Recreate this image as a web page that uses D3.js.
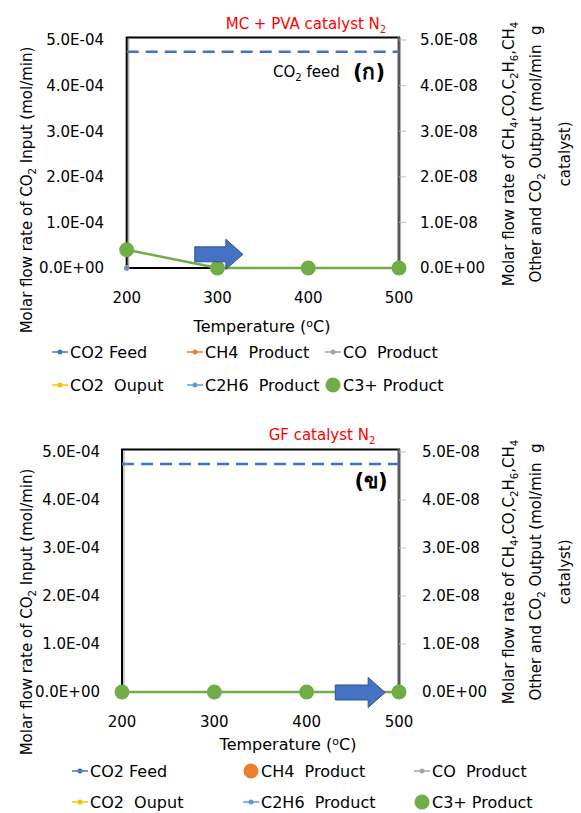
<!DOCTYPE html>
<html>
<head>
<meta charset="utf-8">
<script src="https://cdn.jsdelivr.net/npm/d3@7"></script>
<style>
body { margin: 0; background: #fff; }
svg text { font-family: "DejaVu Sans", "Noto Sans", sans-serif; fill: #000; }
</style>
</head>
<body>
<svg id="chart" width="581" height="813"></svg>
<script>
// temperatures (x categories)
var temps = [200, 300, 400, 500];
var leftTicks = [0, 1e-4, 2e-4, 3e-4, 4e-4, 5e-4];
var rightTicks = [0, 1e-8, 2e-8, 3e-8, 4e-8, 5e-8];

// chart (ก) MC + PVA catalyst N2
var topCO2Feed = [4.74e-4, 4.74e-4, 4.74e-4, 4.74e-4];
var topCH4 = [0, 0, 0, 0];
var topCO = [0, 0, 0, 0];
var topCO2Out = [0, 0, 0, 0];
var topC2H6 = [0, 0, 0, 0];
var topC3 = [4.0e-9, 0, 0, 0];

// chart (ข) GF catalyst N2
var botCO2Feed = [4.75e-4, 4.75e-4, 4.75e-4, 4.75e-4];
var botCH4 = [0, 0, 0, 0];
var botCO = [0, 0, 0, 0];
var botCO2Out = [0, 0, 0, 0];
var botC2H6 = [0, 0, 0, 0];
var botC3 = [0, 0, 0, 0];

var svg = d3.select("#chart");

function sciFmt(v) {
	var s = v.toExponential(1).split("e");
	var e = parseInt(s[1], 10);
	return s[0] + "E" + (e < 0 ? "-" : "+") + (Math.abs(e) < 10 ? "0" : "") + Math.abs(e);
}

// parts: [text, mode] mode 0 normal, 1 subscript, 2 superscript
function richText(sel, parts, size) {
	var shift = 0;
	parts.forEach(function(p) {
		var target = p[1] == 1 ? 4 : (p[1] == 2 ? -5 : 0);
		var t = sel.append("tspan").text(p[0]).attr("dy", target - shift);
		if (p[1]) t.style("font-size", (size * 0.68) + "px");
		shift = target;
	});
}

function drawChart(c) {
	var g = svg.append("g");
	var x = d3.scaleLinear().domain([200, 500]).range([c.x0, c.x1]);
	var yL = d3.scaleLinear().domain([0, 5e-4]).range([c.y0, c.y1]);
	var yR = d3.scaleLinear().domain([0, 5e-8]).range([c.y0, c.y1]);
	var line = d3.line().x(function(d, i) { return x(temps[i]); }).y(function(d) { return yR(d); });

	// thin zero series lines sit under the box border
	c.series.forEach(function(s) {
		if (!s.big) g.append("path").attr("d", line(s.values)).attr("fill", "none")
			.attr("stroke", s.color).attr("stroke-width", 1);
	});

	// plot box
	g.append("rect").attr("x", c.x0).attr("y", c.y1 - 2.5)
		.attr("width", c.x1 - c.x0).attr("height", c.y0 - c.y1 + 2.5)
		.attr("fill", "none").attr("stroke", "#000").attr("stroke-width", 2);
	g.append("line").attr("x1", c.x0 + 2).attr("x2", c.x0 + 2)
		.attr("y1", c.y1 - 1).attr("y2", c.y0).attr("stroke", "#999").attr("stroke-width", 1);
	g.append("line").attr("x1", c.x1).attr("x2", c.x1)
		.attr("y1", c.y1 - 3).attr("y2", c.y0).attr("stroke", "#595959").attr("stroke-width", 3);

	// left tick labels
	g.selectAll(".lt").data(leftTicks).enter().append("text")
		.attr("x", c.lx).attr("y", function(d) { return yL(d); }).attr("dy", "0.36em")
		.attr("text-anchor", "end").style("font-size", "15px").text(sciFmt);
	// right ticks
	g.selectAll(".rtk").data(rightTicks).enter().append("line")
		.attr("x1", c.x1).attr("x2", c.x1 + 7)
		.attr("y1", function(d) { return yR(d); }).attr("y2", function(d) { return yR(d); })
		.attr("stroke", "#bfbfbf").attr("stroke-width", 1);
	g.selectAll(".rt").data(rightTicks).enter().append("text")
		.attr("x", c.rx).attr("y", function(d) { return yR(d); }).attr("dy", "0.36em")
		.style("font-size", "15px").text(sciFmt);
	// x tick labels
	g.selectAll(".xt").data(temps).enter().append("text")
		.attr("x", function(d) { return x(d); }).attr("y", c.xty)
		.attr("text-anchor", "middle").style("font-size", "15px").text(function(d) { return d; });

	var xl = g.append("text").attr("x", c.xlx).attr("y", c.xly).attr("text-anchor", "middle")
		.style("font-size", "16px");
	richText(xl, [["Temperature (", 0], ["o", 2], ["C)", 0]], 16);

	// axis titles
	var lt = g.append("text").attr("transform", "translate(" + c.ltx + "," + c.lty + ") rotate(-90)")
		.attr("text-anchor", "middle").attr("dy", "0.36em").style("font-size", "15px");
	richText(lt, [["Molar flow rate of CO", 0], ["2", 1], [" Input (mol/min)", 0]], 15);

	var rlines = [
		[["Molar flow rate of CH", 0], ["4", 1], [",CO,C", 0], ["2", 1], ["H", 0], ["6", 1], [",CH", 0], ["4", 1]],
		[["Other and CO", 0], ["2", 1], [" Output (mol/min  g", 0]],
		[["catalyst)", 0]]
	];
	var rxs = [c.rtx, c.rtx + 27, c.rtx + 56];
	rlines.forEach(function(parts, i) {
		var t = g.append("text").attr("transform", "translate(" + rxs[i] + "," + yR(2.5e-8) + ") rotate(-90)")
			.attr("text-anchor", "middle").attr("dy", "0.36em").style("font-size", "15px")
			.style("white-space", "pre");
		richText(t, parts, 15);
	});

	// title
	var tt = g.append("text").attr("x", c.tx).attr("y", c.ty).attr("text-anchor", "middle")
		.style("font-size", "15px").style("fill", "#ff0000");
	richText(tt, [[c.title, 0], ["2", 1]], 15);

	// CO2 feed dashed line
	var feedLine = d3.line().x(function(d, i) { return x(temps[i]); }).y(function(d) { return yL(d); });
	g.append("path").attr("d", feedLine(c.feed)).attr("fill", "none")
		.attr("stroke", "#4472c4").attr("stroke-width", 2.5).attr("stroke-dasharray", "12,7");

	// markers and the C3+ line on the right axis
	c.series.forEach(function(s) {
		if (s.big) g.append("path").attr("d", line(s.values)).attr("fill", "none")
			.attr("stroke", s.color).attr("stroke-width", 2.5);
		g.selectAll(null).data(s.values).enter().append("circle")
			.attr("cx", function(d, i) { return x(temps[i]); }).attr("cy", function(d) { return yR(d); })
			.attr("r", s.big ? 7.5 : 2.5).attr("fill", s.color);
	});

	// arrow annotation
	var a = c.arrow;
	var ax0 = x(a.t0), ax1 = x(a.t1), ay = yL(a.v), hx = ax1 - 17;
	var pts = [[ax0, ay - 7.5], [hx, ay - 7.5], [hx, ay - 15], [ax1, ay], [hx, ay + 15], [hx, ay + 7.5], [ax0, ay + 7.5]];
	g.append("path").attr("d", "M" + pts.join("L") + "Z")
		.attr("fill", "#4472c4").attr("stroke", "#2f528f").attr("stroke-width", 1);

	// labels inside plot
	if (c.feedLabel) {
		var fl = g.append("text").attr("x", c.feedLabel[0]).attr("y", c.feedLabel[1]).style("font-size", "15px");
		richText(fl, [["CO", 0], ["2", 1], [" feed", 0]], 15);
	}
	g.append("text").attr("x", c.tag[0]).attr("y", c.tag[1]).attr("text-anchor", "middle")
		.attr("dy", "0.36em").style("font-size", "21px").style("font-weight", "bold").text(c.tag[2]);

	// legend
	c.legend.forEach(function(d, i) {
		var lx = c.legX[i % 3], ly = c.legY[Math.floor(i / 3)];
		if (!d.big) {
			g.append("line").attr("x1", lx - 8).attr("x2", lx + 8).attr("y1", ly).attr("y2", ly)
				.attr("stroke", d.color).attr("stroke-width", 1.5);
		}
		g.append("circle").attr("cx", lx).attr("cy", ly).attr("r", d.big ? 7.5 : 2.5).attr("fill", d.color);
		g.append("text").attr("x", lx + 10).attr("y", ly).attr("dy", "0.36em")
			.style("font-size", "16px").style("white-space", "pre").text(d.name);
	});
}

var colors = { feed: "#4472c4", ch4: "#ed7d31", co: "#a5a5a5", out: "#ffc000", c2h6: "#5b9bd5", c3: "#70ad47" };

drawChart({
	x0: 126.7, x1: 399, y0: 268, y1: 40, lx: 104, rx: 420, xty: 303, xlx: 262, xly: 332,
	ltx: 32, lty: 190, rtx: 514, tx: 306, ty: 29, title: "MC + PVA catalyst N",
	feed: topCO2Feed, feedLabel: [273, 77], tag: [369, 71, "(ก)"],
	arrow: { t0: 275, t1: 328, v: 0.3e-4 },
	series: [
		{ values: topCO2Out, color: colors.out },
		{ values: topCH4, color: colors.ch4 },
		{ values: topCO, color: colors.co },
		{ values: topC2H6, color: colors.c2h6 },
		{ values: topC3, color: colors.c3, big: true }
	],
	legX: [60, 195, 333], legY: [352, 385],
	legend: [
		{ name: "CO2 Feed", color: colors.feed }, { name: "CH4  Product", color: colors.ch4 },
		{ name: "CO  Product", color: colors.co }, { name: "CO2  Ouput", color: colors.out },
		{ name: "C2H6  Product", color: colors.c2h6 }, { name: "C3+ Product", color: colors.c3, big: true }
	]
});

drawChart({
	x0: 122, x1: 399, y0: 692, y1: 452, lx: 100, rx: 422, xty: 727, xlx: 288, xly: 750,
	ltx: 32, lty: 612, rtx: 514, tx: 322, ty: 440, title: "GF catalyst N",
	feed: botCO2Feed, feedLabel: null, tag: [371, 480, "(ข)"],
	arrow: { t0: 431, t1: 485, v: -0.01e-4 },
	series: [
		{ values: botCO2Out, color: colors.out },
		{ values: botCH4, color: colors.ch4 },
		{ values: botCO, color: colors.co },
		{ values: botC2H6, color: colors.c2h6 },
		{ values: botC3, color: colors.c3, big: true }
	],
	legX: [80, 251, 422], legY: [771, 802],
	legend: [
		{ name: "CO2 Feed", color: colors.feed }, { name: "CH4  Product", color: colors.ch4, big: true },
		{ name: "CO  Product", color: colors.co }, { name: "CO2  Ouput", color: colors.out },
		{ name: "C2H6  Product", color: colors.c2h6 }, { name: "C3+ Product", color: colors.c3, big: true }
	]
});
</script>
</body>
</html>
